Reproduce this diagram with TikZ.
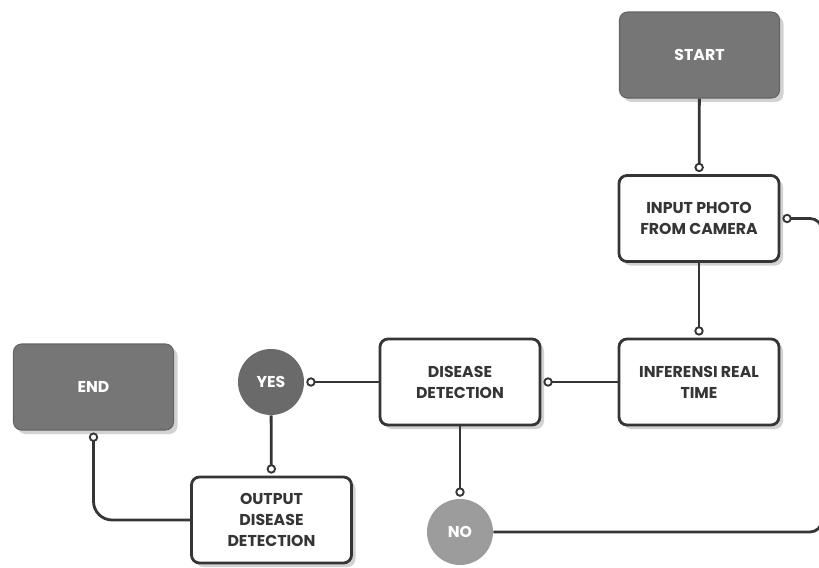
\documentclass[tikz,border=0pt]{standalone}
\usepackage{fontspec}
\setmainfont{Poppins}
\usetikzlibrary{arrows.meta,shadows}
\definecolor{dk}{HTML}{353535}
\definecolor{boxgray}{HTML}{767676}
\definecolor{yesgray}{HTML}{6A6A6A}
\definecolor{nogray}{HTML}{9C9C9C}
\definecolor{shad}{HTML}{D2D2D2}
\tikzset{
  base/.style={rounded corners=6pt, minimum width=120pt, minimum height=64.5pt,
    align=center, font=\fontsize{11.8}{15.8}\selectfont\bfseries, inner sep=2pt,
    drop shadow={shadow xshift=3pt, shadow yshift=-3pt, fill=shad, opacity=1}},
  term/.style={base, fill=boxgray, draw=boxgray!85!black, line width=0.8pt, text=white},
  proc/.style={base, fill=white, draw=dk, line width=2.1pt, text=dk},
  decis/.style={circle, minimum size=49.5pt, inner sep=0pt, text=white,
    font=\fontsize{11.8}{14}\selectfont\bfseries},
  conn/.style={draw=dk, line width=2.1pt,
    -{Circle[open, fill=white, length=7pt, width=7pt, line width=1.4pt]},
    shorten >=1.5pt},
}
\begin{document}
\begin{tikzpicture}[x=0.75pt,y=-0.75pt]
\useasboundingbox (0,0) rectangle (819,568);
\clip (0,0) rectangle (819,568);
\node[term] (start) at (699.5,55) {START};
\node[proc] (input) at (699,218.5) {INPUT PHOTO\\FROM CAMERA};
\node[proc] (inf) at (699,382) {INFERENSI REAL\\TIME};
\node[proc] (dis) at (460,382) {DISEASE\\DETECTION};
\node[decis, fill=yesgray] (yes) at (271,382) {YES};
\node[proc] (out) at (271.5,520) {OUTPUT\\DISEASE\\DETECTION};
\node[term] (end) at (93.5,387) {END};
\node[decis, fill=nogray] (no) at (460,532) {NO};
\coordinate (c1) at (822,532);
\coordinate (c2) at (822,218.5);
\coordinate (c3) at (93.5,520);

\draw[conn] (start) -- (input);
\draw[conn] (input) -- (inf);
\draw[conn] (inf) -- (dis);
\draw[conn] (dis) -- (yes);
\draw[conn] (yes) -- (out);
\draw[conn] (dis) -- (no);
\draw[conn, rounded corners=14pt] (out.west) -- (c3) -- (end.south);
\draw[conn, rounded corners=9pt] (no.east) -- (c1) -- (c2) -- (input.east);
\end{tikzpicture}
\end{document}
